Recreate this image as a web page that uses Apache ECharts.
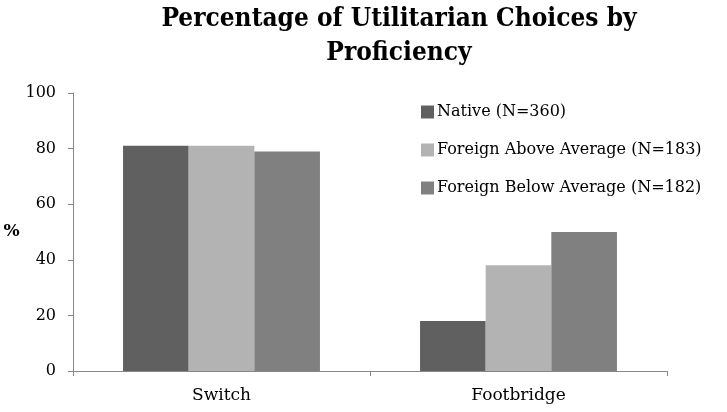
<!DOCTYPE html>
<html><head><meta charset="utf-8">
<script src="https://cdn.jsdelivr.net/npm/echarts@6/dist/echarts.min.js"></script>
<style>html,body{margin:0;padding:0;background:#fff}#c{width:727px;height:412px}</style>
</head><body><div id="c"></div>
<script>
const categories = ['Switch', 'Footbridge'];
const seriesNames = ['Native (N=360)', 'Foreign Above Average (N=183)', 'Foreign Below Average (N=182)'];
const nativeVals = [81, 18];
const aboveVals = [81, 38];
const belowVals = [79, 50];
const colors = ['#606060', '#b3b3b3', '#808080'];
const serif = "'DejaVu Serif', serif";
const chart = echarts.init(document.getElementById('c'), null, {renderer: 'canvas'});
const data = [nativeVals, aboveVals, belowVals];
chart.setOption({
  animation: false,
  title: {
    text: 'Percentage of Utilitarian Choices by\nProficiency',
    left: 399, top: 2, padding: 0, textAlign: 'center',
    textStyle: {fontFamily: "'DejaVu Serif Condensed', 'DejaVu Serif', serif", fontWeight: 'bold', fontSize: 26, lineHeight: 34, color: '#000'}
  },
  legend: {
    orient: 'vertical', left: 421, top: 104, itemWidth: 13, itemHeight: 13, itemGap: 22,
    icon: 'rect', padding: 0,
    textStyle: {fontFamily: serif, fontSize: 16, color: '#000', padding: [0,0,0,-2]},
    data: seriesNames
  },
  grid: {left: 73, right: 60, top: 93, bottom: 41},
  xAxis: {
    type: 'category', data: categories,
    axisLine: {lineStyle: {color: '#888', width: 1}},
    axisTick: {show: true, length: 5, lineStyle: {color: '#888'}},
    axisLabel: {fontFamily: serif, fontSize: 17, color: '#000', margin: 16}
  },
  yAxis: {
    type: 'value', min: 0, max: 100, interval: 20,
    name: '%', nameLocation: 'middle', nameRotate: 0, nameGap: 51,
    nameTextStyle: {fontFamily: serif, fontWeight: 'bold', fontSize: 17, color: '#000', padding: [10,0,0,0]},
    axisLine: {show: true, lineStyle: {color: '#888', width: 1}},
    axisTick: {show: true, length: 5, lineStyle: {color: '#888'}},
    splitLine: {show: false},
    axisLabel: {fontFamily: serif, fontSize: 16, color: '#000', margin: 17}
  },
  series: data.map((d, i) => ({
    name: seriesNames[i], type: 'bar', data: d,
    itemStyle: {color: colors[i]},
    barGap: '0%', barCategoryGap: '33.7%'
  }))
});
</script></body></html>
